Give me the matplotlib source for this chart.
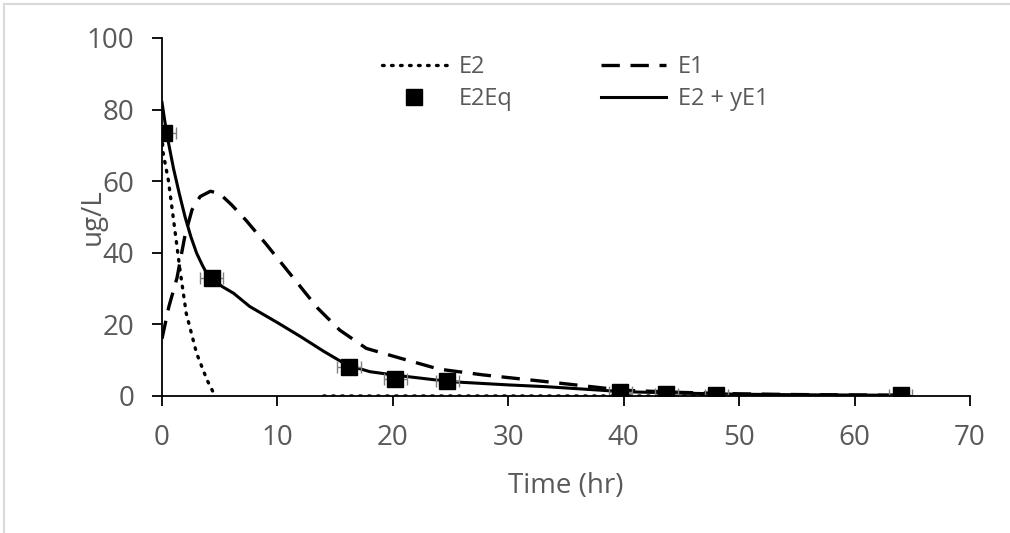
import numpy as np
import matplotlib
matplotlib.use("Agg")
import matplotlib.pyplot as plt
from matplotlib.lines import Line2D

plt.rcParams['font.family'] = ['Open Sans', 'DejaVu Sans']

# measured E2Eq points
eq_t = [0.2, 4.3, 16.2, 20.2, 24.7, 39.7, 43.7, 48.0, 64.0]
eq_c = [73.5, 33.0, 8.0, 4.8, 4.3, 1.0, 0.6, 0.4, 0.2]
eq_terr = [1.0, 1.0, 1.0, 1.0, 1.0, 1.0, 1.0, 1.0, 1.0]

# model curves
e2_t = [0, 0.1, 0.55, 1.0, 1.56, 2.1, 3.0, 3.9, 4.6, np.nan, 14, 64]
e2_c = [73, 67.8, 60.3, 49.2, 35.2, 23.1, 11.9, 4.5, 0.0, np.nan, 0.0, 0.0]

e1_t = [0, 0.6, 1.3, 2.0, 2.6, 3.3, 4.2, 5.0, 6.0, 7.3, 9.0, 10.5, 12.0, 13.5,
        15.4, 17.7, 20.6, 24.0, 27.8, 33.3, 40, 45, 50, 55, 64]
e1_c = [16, 25, 33, 45, 52, 55.7, 57.2, 56.5, 53.5, 49, 42.5, 36.5, 30.5, 24.5,
        18.4, 13.3, 10.6, 7.5, 5.9, 4.0, 1.6, 1.0, 0.6, 0.4, 0.2]

fit_t = [0, 0.4, 1.0, 1.5, 2.0, 2.5, 3.0, 3.5, 3.87, 4.3, 5.2, 6.2, 7.6, 10, 12,
         14, 16, 18, 20, 25, 30, 33.3, 40, 45, 50, 55, 64]
fit_c = [82, 73.4, 63.5, 56.5, 50.0, 44.5, 39.9, 36.5, 34.3, 33.0, 30.6, 28.7,
         25, 20.5, 16.6, 12.5, 8.7, 6.8, 5.9, 4.0, 3.1, 2.6, 1.2, 0.8, 0.5, 0.35,
         0.2]

grey = '#595959'

fig = plt.figure(figsize=(10.1, 5.33), dpi=100)
ax = fig.add_axes([162 / 1010, 1 - 396 / 533, 808 / 1010, 358 / 533])

ax.plot(e2_t, e2_c, color='black', lw=2.4, linestyle=(0, (0.5, 2.2)),
        dash_capstyle='round', label='E2')
ax.plot(e1_t, e1_c, color='black', lw=2.4, linestyle=(0, (5.5, 3.2)), label='E1')
ax.plot(fit_t, fit_c, color='black', lw=2.2, label='E2 + yE1')
ax.errorbar(eq_t, eq_c, xerr=eq_terr, fmt='none', ecolor='#808080',
            elinewidth=1, capsize=4, capthick=1)
ax.plot(eq_t, eq_c, 's', color='black', markersize=11, label='E2Eq')

ax.set_xlim(0, 70)
ax.set_ylim(0, 100)
ax.set_xticks(np.arange(0, 71, 10))
ax.set_yticks(np.arange(0, 101, 20))
for s in ['top', 'right']:
    ax.spines[s].set_visible(False)
for s in ['left', 'bottom']:
    ax.spines[s].set_linewidth(1.3)
ax.tick_params(direction='out', length=7, width=1.3, labelsize=20,
               labelcolor=grey, pad=13)
ax.set_xlabel('Time (hr)', fontsize=20, color=grey)
ax.set_ylabel('ug/L', fontsize=20, color=grey)
ax.xaxis.set_label_coords(0.5, -0.212)
ax.yaxis.set_label_coords(-0.068, 0.5)

h = {l.get_label(): l for l in ax.get_lines()}
handles = [h['E2'], h['E2Eq'], h['E1'], h['E2 + yE1']]
leg = ax.legend(handles, [x.get_label() for x in handles], ncol=2, frameon=False,
                loc='upper left', bbox_to_anchor=(0.272, 0.952), fontsize=17,
                labelcolor=grey, handlelength=2.75, columnspacing=3.75,
                handletextpad=0.5, labelspacing=0.35, borderpad=0,
                borderaxespad=0)

# chart frame border
fig.add_artist(Line2D([4 / 1010, 4 / 1010], [0, 1 - 4 / 533], color='#d9d9d9', lw=1.5))
fig.add_artist(Line2D([4 / 1010, 1], [1 - 4 / 533, 1 - 4 / 533], color='#d9d9d9', lw=1.5))

fig.savefig('out.png', dpi=100)
